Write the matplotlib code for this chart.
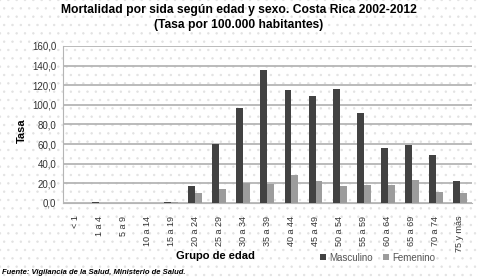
import matplotlib.pyplot as plt
import numpy as np
from matplotlib.patches import Rectangle

grupos = ["< 1", "1 a 4", "5 a 9", "10 a 14", "15 a 19", "20 a 24", "25 a 29",
          "30 a 34", "35 a 39", "40 a 44", "45 a 49", "50 a 54", "55 a 59",
          "60 a 64", "65 a 69", "70 a 74", "75 y más"]
masculino = [0.0, 1.0, 0.5, 0.5, 1.5, 17.0, 60.0, 97.0, 135.0, 115.0, 109.0,
             116.0, 91.5, 56.0, 59.0, 49.0, 22.0]
femenino = [0.0, 0.5, 0.3, 0.3, 1.0, 10.0, 14.0, 20.0, 19.0, 28.8, 22.0,
            17.0, 18.5, 18.5, 23.7, 10.8, 10.0]
yticks = [0, 20, 40, 60, 80, 100, 120, 140, 160]

plt.rcParams['font.family'] = ['Liberation Sans', 'DejaVu Sans']
plt.rcParams['hatch.linewidth'] = 0.5

fig = plt.figure(figsize=(4.78, 2.8), dpi=100)
# dotted background like the original chart area
fig.patches.append(Rectangle((0, 0), 1, 1, transform=fig.transFigure,
                             fill=False, hatch='..', edgecolor='#e2e2e2',
                             linewidth=0, zorder=-10))

ax = fig.add_axes([0.132, 0.275, 0.855, 0.561])
ax.set_facecolor('none')

x = np.arange(len(grupos))
w = 0.29
ax.bar(x - w / 2, masculino, w, color='#424242', label='Masculino', zorder=3)
ax.bar(x + w / 2, femenino, w, color='#9c9c9c', label='Femenino', zorder=3)

ax.set_xlim(-0.5, len(grupos) - 0.5)
ax.set_ylim(0, 160)
ax.set_yticks(yticks)
ax.set_yticklabels([f"{v:.1f}".replace('.', ',') for v in yticks],
                   fontsize=7, color='#333333')
ax.yaxis.grid(True, color='#b5b5b5', linewidth=1.3, zorder=0)
ax.set_xticks(x)
ax.set_xticklabels(grupos, rotation=90, fontsize=6.5, color='#333333')
ax.tick_params(axis='y', length=0, pad=5)
ax.tick_params(axis='x', length=0, pad=9)
for s in ['top', 'right']:
    ax.spines[s].set_visible(False)
ax.spines['left'].set_color('#b5b5b5')
ax.spines['bottom'].set_color('#b5b5b5')

fig.text(0.045, 0.535, 'Tasa', fontsize=8, fontweight='bold', rotation=90,
         ha='center', va='center')
fig.text(0.45, 0.085, 'Grupo de edad', fontsize=8, fontweight='bold',
         ha='center', va='center')

fig.legend(loc='center', bbox_to_anchor=(0.79, 0.08), ncol=2, frameon=False,
           fontsize=7, handlelength=0.6, handleheight=0.6, columnspacing=1.0,
           handletextpad=0.4, labelcolor='#555555')

fig.text(0.5, 0.963, 'Mortalidad por sida según edad y sexo. Costa Rica 2002-2012',
         fontsize=8.7, fontweight='bold', ha='center', va='center')
fig.text(0.5, 0.912, '(Tasa por 100.000 habitantes)', fontsize=8.7,
         fontweight='bold', ha='center', va='center')
fig.text(0.005, 0.028, 'Fuente: Vigilancia de la Salud, Ministerio de Salud.',
         fontsize=5.5, fontweight='bold', fontstyle='italic', ha='left',
         va='center')

fig.savefig('out.png', dpi=100)
